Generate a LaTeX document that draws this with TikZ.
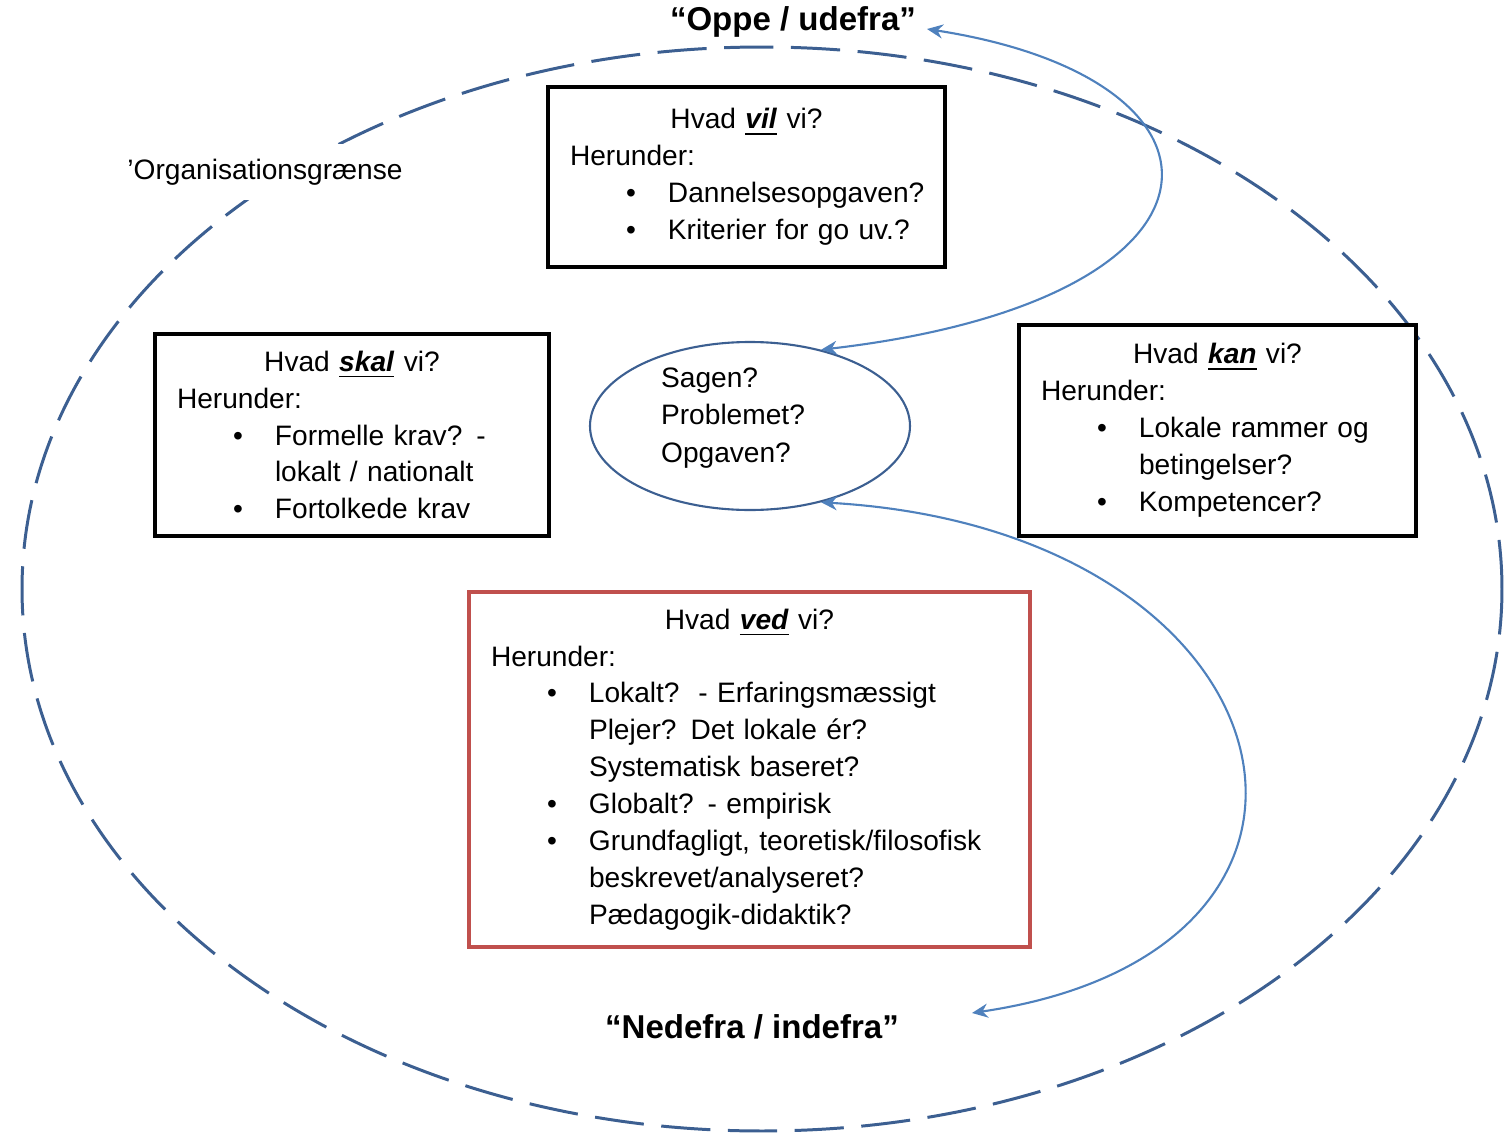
\documentclass[tikz,border=0pt]{standalone}
\usepackage{fontspec}
\setmainfont{Liberation Sans}
\usetikzlibrary{shapes.geometric,arrows.meta}
\definecolor{orgblaa}{RGB}{60,95,145}
\definecolor{pilblaa}{RGB}{79,129,189}
\definecolor{vedrod}{RGB}{192,80,77}
\newcommand{\hvad}[1]{\makebox[\linewidth][c]{Hvad \underline{\textbf{\textit{#1}}} vi?}}
\newcommand{\punkt}[1]{\hspace*{5.6mm}\makebox[4.2mm][l]{\textbullet}#1}
\newcommand{\fortsat}[1]{\hspace*{9.8mm}#1}
\tikzset{
	orggraense/.style={draw=orgblaa, line width=0.85pt, dash pattern=on 14pt off 5pt},
	boks/.style={draw, line width=1pt, fill=white, align=left, inner xsep=2.2mm,
		font=\fontsize{8}{10.5}\selectfont, text width=#1},
	retning/.style={font=\bfseries\fontsize{9.4}{11}\selectfont},
	pil/.style={draw=pilblaa, line width=0.6pt, {Stealth[length=4.5pt,width=4pt]}-{Stealth[length=4.5pt,width=4pt]}}
}

\begin{document}
\begin{tikzpicture}[x=0.1mm,y=-0.1mm]
	\useasboundingbox (0,0) rectangle (1504,1133);
	%ORGANISATIONSGRAENSE
	\draw[orggraense] (762,589) ellipse [x radius=74mm, y radius=54.2mm];
	\node[fill=white, inner sep=1.5mm, font=\fontsize{8}{10}\selectfont] (org) at (265,172) {'Organisationsgrænse};
	%RETNINGER
	\node[retning] (oppe) at (793,22) {``Oppe / udefra''};
	\node[retning] (nede) at (752,1027) {``Nedefra / indefra''};
	\coordinate (oppepil) at (927,29);
	\coordinate (nedepil) at (972,1013);
	%BOKSE
	\node[boks=35.3mm, minimum height=18mm] (vil) at (746.5,177) {\hvad{vil}\\
		Herunder:\\
		\punkt{Dannelsesopgaven?}\\
		\punkt{Kriterier for go uv.?}};
	\node[boks=35mm, minimum height=20.2mm] (skal) at (352,435) {\hvad{skal}\\
		Herunder:\\
		\punkt{Formelle krav? -}\\
		\fortsat{lokalt / nationalt}\\
		\punkt{Fortolkede krav}};
	\node[boks=35.3mm, minimum height=21.1mm] (kan) at (1217.5,430.5) {\hvad{kan}\\
		Herunder:\\
		\punkt{Lokale rammer og}\\
		\fortsat{betingelser?}\\
		\punkt{Kompetencer?}};
	\node[boks=51.7mm, draw=vedrod, line width=1.2pt, minimum height=35.5mm] (ved) at (749.5,769.5) {\hvad{ved}\\
		Herunder:\\
		\punkt{Lokalt?\ \ - Erfaringsmæssigt}\\
		\fortsat{Plejer? Det lokale ér?}\\
		\fortsat{Systematisk baseret?}\\
		\punkt{Globalt? - empirisk}\\
		\punkt{Grundfagligt, teoretisk/filosofisk}\\
		\fortsat{beskrevet/analyseret?}\\
		\fortsat{Pædagogik-didaktik?}};
	%SAGEN
	\node[ellipse, draw=orgblaa, line width=0.6pt, minimum width=32mm, minimum height=16.8mm, inner sep=0pt,
		align=left, font=\fontsize{8}{10.6}\selectfont] (sagen) at (750,426) {Sagen?\\Problemet?\\Opgaven?\hspace*{4.8mm}\rule[-2.2mm]{0pt}{2.2mm}};
	%PILE
	\draw[pil] (sagen.47) .. controls (1250,300) and (1255,80) .. (oppepil);
	\draw[pil] (sagen.-47) .. controls (1300,530) and (1400,950) .. (nedepil);
\end{tikzpicture}
\end{document}
